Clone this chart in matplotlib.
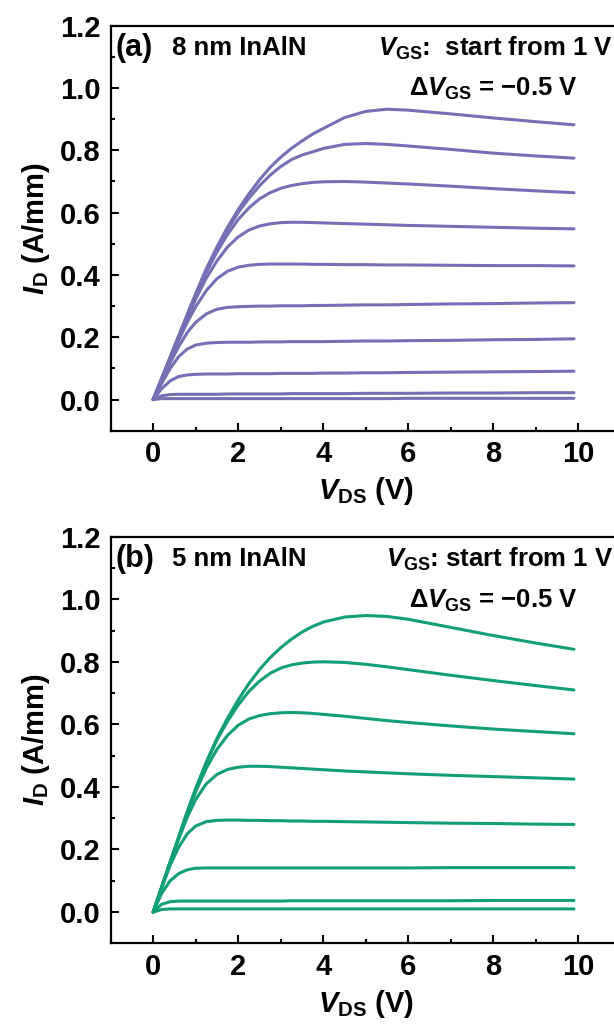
import matplotlib.pyplot as plt
from matplotlib.ticker import MultipleLocator

plt.rcParams['font.family'] = 'Liberation Sans'
plt.rcParams['font.weight'] = 'bold'
plt.rcParams['mathtext.fontset'] = 'custom'
plt.rcParams['mathtext.rm'] = 'Liberation Sans:bold'
plt.rcParams['mathtext.it'] = 'Liberation Sans:italic:bold'
plt.rcParams['mathtext.bf'] = 'Liberation Sans:bold'

# common V_DS sampling (V)
vds = [0, 0.2, 0.4, 0.6, 0.8, 1.0, 1.25, 1.5, 1.75, 2.0, 2.25, 2.5, 2.75, 3.0,
       3.25, 3.5, 3.75, 4.0, 4.5, 5.0, 5.5, 6.0, 7.0, 8.0, 9.0, 9.9]

# (a) 8 nm InAlN, I_D in A/mm, VGS from 1 V down in -0.5 V steps
id_a = [
    [0, .068, .136, .204, .272, .34, .42, .49, .553, .61, .66, .705, .745, .778,
     .806, .83, .852, .87, .905, .925, .932, .929, .917, .904, .892, .882],
    [0, .068, .136, .204, .272, .338, .416, .485, .546, .60, .646, .686, .72, .748,
     .77, .785, .795, .806, .819, .822, .819, .814, .803, .791, .782, .775],
    [0, .068, .135, .202, .268, .333, .408, .474, .53, .578, .615, .644, .664, .678,
     .687, .693, .697, .699, .700, .698, .695, .692, .685, .677, .670, .664],
    [0, .067, .133, .198, .262, .322, .39, .445, .49, .522, .544, .557, .564, .568,
     .569, .569, .568, .567, .565, .563, .561, .559, .556, .553, .550, .548],
    [0, .065, .128, .19, .248, .298, .35, .388, .412, .425, .431, .434, .435, .435,
     .435, .435, .434, .434, .433, .433, .432, .432, .431, .430, .430, .429],
    [0, .06, .118, .17, .215, .248, .275, .29, .296, .298, .299, .300, .300, .301,
     .301, .301, .302, .302, .303, .304, .304, .305, .307, .308, .310, .311],
    [0, .052, .10, .138, .162, .175, .181, .183, .184, .184, .184, .185, .185, .185,
     .186, .186, .186, .186, .187, .188, .188, .189, .190, .192, .193, .195],
    [0, .035, .06, .074, .079, .081, .082, .082, .082, .083, .083, .083, .083, .084,
     .084, .084, .084, .085, .085, .086, .086, .087, .088, .089, .090, .091],
    [0, .012, .016, .017, .017, .017, .017, .017, .018, .018, .018, .018, .018, .018,
     .019, .019, .019, .019, .019, .020, .020, .020, .021, .021, .022, .022],
    [0, .003, .003, .003, .003, .003, .003, .003, .003, .003, .003, .003, .003, .003,
     .003, .003, .003, .003, .003, .003, .003, .004, .004, .004, .004, .004],
]

# (b) 5 nm InAlN
id_b = [
    [0, .08, .16, .24, .32, .395, .48, .555, .62, .678, .73, .775, .813, .845,
     .872, .895, .913, .927, .943, .948, .945, .936, .91, .884, .86, .84],
    [0, .08, .16, .24, .32, .393, .476, .55, .61, .662, .705, .738, .763, .78,
     .79, .796, .799, .80, .798, .792, .784, .775, .757, .74, .724, .71],
    [0, .08, .16, .238, .315, .385, .46, .52, .565, .597, .617, .628, .634, .637,
     .638, .637, .635, .632, .626, .619, .612, .606, .595, .585, .577, .57],
    [0, .079, .157, .233, .303, .36, .41, .44, .456, .463, .466, .466, .465, .463,
     .461, .459, .457, .455, .451, .448, .445, .442, .437, .433, .429, .425],
    [0, .077, .15, .207, .25, .275, .289, .293, .294, .294, .293, .293, .292, .292,
     .291, .291, .290, .290, .289, .288, .287, .286, .284, .283, .281, .28],
    [0, .06, .10, .123, .135, .14, .141, .141, .141, .141, .141, .141, .141, .141,
     .141, .141, .141, .141, .141, .141, .141, .141, .142, .142, .142, .142],
    [0, .025, .033, .035, .035, .035, .035, .035, .035, .035, .035, .035, .035, .035,
     .036, .036, .036, .036, .036, .036, .036, .036, .036, .037, .037, .037],
    [0, .008, .01, .01, .01, .01, .01, .01, .01, .01, .01, .01, .01, .01,
     .01, .01, .01, .01, .01, .01, .01, .01, .01, .01, .01, .01],
]

panels = [
    (id_a, '#7570b3', '(a)', '8 nm InAlN', r'$V_{\mathrm{GS}}$:  start from 1 V'),
    (id_b, '#129f78', '(b)', '5 nm InAlN', r'$V_{\mathrm{GS}}$: start from 1 V'),
]
positions = [[0.1803, 0.5798, 0.8306, 0.3951], [0.1803, 0.0797, 0.8306, 0.3967]]

fig = plt.figure(figsize=(6.14, 10.25), dpi=100)

for (curves, color, tag, label, vgs_text), pos in zip(panels, positions):
    ax = fig.add_axes(pos)
    for ids in curves:
        ax.plot(vds, ids, color=color, lw=2.2, solid_capstyle='round', solid_joinstyle='round')

    ax.set_xlim(-1, 11)
    ax.set_ylim(-0.1, 1.2)
    ax.xaxis.set_major_locator(MultipleLocator(2))
    ax.xaxis.set_minor_locator(MultipleLocator(1))
    ax.yaxis.set_major_locator(MultipleLocator(0.2))
    ax.yaxis.set_minor_locator(MultipleLocator(0.1))
    ax.tick_params(which='both', direction='in', width=1.5, labelsize=21, top=False, right=False)
    ax.tick_params(which='major', length=6, pad=7)
    ax.tick_params(which='minor', length=3)
    ax.set_xticks([0, 2, 4, 6, 8, 10])
    ax.set_yticklabels([f'{v:.1f}' for v in ax.get_yticks()])
    for sp in ax.spines.values():
        sp.set_linewidth(1.6)

    ax.set_xlabel(r'$V_{\mathrm{DS}}$ (V)', fontsize=21, fontweight='bold', labelpad=5)
    ax.set_ylabel(r'$I_{\mathrm{D}}$ (A/mm)', fontsize=21, fontweight='bold', labelpad=6)

    ax.text(0.010, 0.945, tag, transform=ax.transAxes, fontsize=22, va='center', ha='left')
    ax.text(0.12, 0.945, label, transform=ax.transAxes, fontsize=18.5, va='center', ha='left')
    ax.text(0.985, 0.945, vgs_text, transform=ax.transAxes, fontsize=18.5, va='center', ha='right')
    ax.text(0.915, 0.843, r'$\Delta V_{\mathrm{GS}}$ = $-$0.5 V', transform=ax.transAxes,
            fontsize=18.5, va='center', ha='right')

plt.savefig('out.png', dpi=100)
